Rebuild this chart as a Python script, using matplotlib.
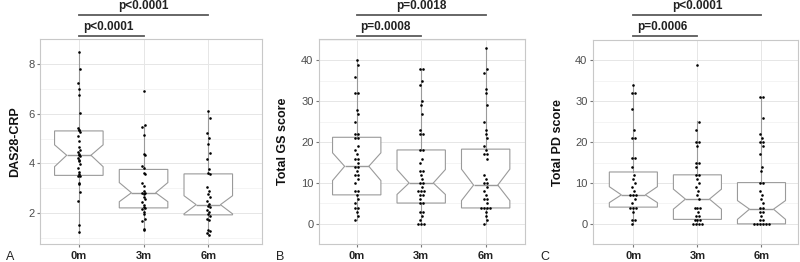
import matplotlib
matplotlib.use("Agg")
import matplotlib.pyplot as plt
import numpy as np
from matplotlib.transforms import blended_transform_factory

plt.rcParams['font.family'] = ['Liberation Sans', 'DejaVu Sans']

groups = ["0m", "3m", "6m"]

# ---- Panel A: DAS28-CRP ----
das_0m = [8.50, 7.80, 7.26, 6.98, 6.74, 6.03, 5.42, 5.35, 5.33, 5.28, 5.09, 4.89, 4.66, 4.56,
          4.46, 4.40, 4.36, 4.29, 4.22, 4.13, 4.08, 3.96, 3.83, 3.67, 3.56, 3.50, 3.48, 3.23,
          3.17, 2.87, 2.50, 1.51, 1.22]
das_3m = [6.90, 5.55, 5.46, 5.15, 4.38, 4.33, 3.89, 3.83, 3.63, 3.56, 3.23, 3.10, 2.90, 2.83,
          2.80, 2.77, 2.66, 2.57, 2.44, 2.34, 2.24, 2.20, 2.17, 2.04, 1.97, 1.75, 1.68, 1.38, 1.31]
das_6m = [6.13, 5.84, 5.22, 5.02, 4.79, 4.42, 4.16, 3.76, 3.60, 3.56, 3.07, 2.90, 2.77, 2.64,
          2.50, 2.37, 2.30, 2.24, 2.13, 2.04, 1.97, 1.87, 1.77, 1.71, 1.34, 1.27, 1.18, 1.11]
# box stats: q1, med, q3, notch lo, notch hi, whisker lo, whisker hi
das_q1 = [3.52, 2.21, 1.93]
das_med = [4.33, 2.82, 2.34]
das_q3 = [5.31, 3.76, 3.58]
das_cilo = [3.87, 2.46, 1.97]
das_cihi = [4.75, 3.23, 2.70]
das_wlo = [1.20, 1.31, 1.11]
das_whi = [8.50, 5.55, 6.13]

# ---- Panel B: Total GS score ----
gs_0m = [40, 39, 36, 32, 32, 28, 27, 25, 22, 22, 21, 21, 19, 18, 17, 16, 16, 15, 14, 14, 13,
         12, 12, 11, 10, 8, 8, 7, 6, 5, 4, 4, 3, 2, 1]
gs_3m = [38, 38, 35, 34, 30, 29, 27, 23, 22, 22, 18, 18, 16, 15, 13, 13, 12, 11, 10, 10, 9,
         8, 8, 8, 7, 7, 6, 5, 5, 3, 3, 2, 1, 0, 0, 0]
gs_6m = [43, 38, 37, 33, 32, 29, 25, 23, 22, 21, 19, 18, 17, 17, 16, 12, 11, 10, 10, 9, 8, 7,
         6, 6, 5, 4, 4, 4, 4, 3, 2, 1, 0]
gs_q1 = [7.1, 5.1, 3.9]
gs_med = [14.1, 10.0, 9.5]
gs_q3 = [21.2, 18.1, 18.3]
gs_cilo = [10.6, 7.2, 5.7]
gs_cihi = [17.4, 13.3, 13.4]
gs_wlo = [1, 0, 0]
gs_whi = [40, 38, 43]

# ---- Panel C: Total PD score ----
pd_0m = [34, 32, 32, 28, 23, 21, 21, 16, 16, 14, 12, 11, 10, 9, 8, 7, 7, 7, 6, 5, 4, 4, 4,
         3, 1, 1, 0]
pd_3m = [39, 25, 23, 20, 20, 19, 15, 15, 14, 12, 12, 11, 10, 9, 8, 7, 6, 4, 4, 4, 3, 2, 2,
         1, 1, 1, 0, 0, 0, 0]
pd_6m = [31, 31, 26, 22, 21, 20, 20, 19, 17, 14, 13, 10, 10, 8, 7, 6, 5, 4, 4, 3, 3, 2, 1, 1,
         0, 0, 0, 0, 0, 0]
pd_q1 = [4.1, 1.1, 0.0]
pd_med = [7.1, 6.06, 3.6]
pd_q3 = [12.7, 12.0, 10.1]
pd_cilo = [5.2, 3.6, 1.1]
pd_cihi = [9.1, 8.5, 5.7]
pd_wlo = [0, 0, 0]
pd_whi = [34, 25.2, 31]

panels = [
    dict(pts=[das_0m, das_3m, das_6m], q1=das_q1, med=das_med, q3=das_q3, cilo=das_cilo,
         cihi=das_cihi, wlo=das_wlo, whi=das_whi, ylabel="DAS28-CRP", letter="A",
         yticks=[2, 4, 6, 8], ylim=(0.744, 8.89), xlim=(0.40, 3.83),
         pos=[40, 39.3, 262, 244.3], p_top="p<0.0001", p_low="p<0.0001", lx=10, ylx=15),
    dict(pts=[gs_0m, gs_3m, gs_6m], q1=gs_q1, med=gs_med, q3=gs_q3, cilo=gs_cilo,
         cihi=gs_cihi, wlo=gs_wlo, whi=gs_whi, ylabel="Total GS score", letter="B",
         yticks=[0, 10, 20, 30, 40], ylim=(-2.32, 45.19), xlim=(0.415, 3.61),
         pos=[319, 39.3, 525, 244.3], p_top="p=0.0018", p_low="p=0.0008", lx=280, ylx=283),
    dict(pts=[pd_0m, pd_3m, pd_6m], q1=pd_q1, med=pd_med, q3=pd_q3, cilo=pd_cilo,
         cihi=pd_cihi, wlo=pd_wlo, whi=pd_whi, ylabel="Total PD score", letter="C",
         yticks=[0, 10, 20, 30, 40], ylim=(-2.19, 41.21), xlim=(0.37, 3.57),
         pos=[593, 40, 798, 244.3], p_top="p<0.0001", p_low="p=0.0006", lx=545, ylx=558),
]

W, H = 800, 262
fig = plt.figure(figsize=(W / 100, H / 100), dpi=100)

box_col = "#9a9a9a"
grid_major = "#e6e6e6"
grid_minor = "#f2f2f2"
bar_col = "#5a5a5a"

for p in panels:
    l, t, r, b = p["pos"]
    ax = fig.add_axes([l / W, (H - b) / H, (r - l) / W, (b - t) / H])

    stats = []
    for i in range(3):
        stats.append(dict(med=p["med"][i], q1=p["q1"][i], q3=p["q3"][i],
                          cilo=p["cilo"][i], cihi=p["cihi"][i],
                          whislo=p["wlo"][i], whishi=p["whi"][i], fliers=[]))
    ax.bxp(stats, positions=[1, 2, 3], widths=0.75, shownotches=True, showcaps=False,
           showfliers=False, patch_artist=True, manage_ticks=False,
           boxprops=dict(facecolor="white", edgecolor=box_col, lw=0.8),
           whiskerprops=dict(color=box_col, lw=0.8),
           medianprops=dict(color=box_col, lw=1.0))

    # points: duplicates spread side by side, singletons with a small alternating shift
    for gi, vals in enumerate(p["pts"]):
        xs, ys = [], []
        uniq = {}
        for v in vals:
            uniq[v] = uniq.get(v, 0) + 1
        for k, (v, c) in enumerate(uniq.items()):
            shift = [0.0, 0.02, -0.02, 0.01][k % 4] if c == 1 else 0.0
            for j in range(c):
                xs.append(gi + 1 + shift + (j - (c - 1) / 2) * 0.045)
                ys.append(v)
        ax.scatter(xs, ys, s=3.5, color="black", zorder=5, linewidths=0)

    ax.set_xlim(*p["xlim"])
    ax.set_ylim(*p["ylim"])
    yt = p["yticks"]
    step = yt[1] - yt[0]
    minor = [v + step / 2 for v in [yt[0] - step] + yt]
    ax.set_yticks(yt)
    ax.set_yticks(minor, minor=True)
    ax.set_xticks([1, 2, 3])
    ax.set_xticklabels(groups, fontsize=8, fontweight="bold", color="#222222")
    ax.grid(True, which="major", color=grid_major, lw=0.7)
    ax.grid(True, which="minor", axis="y", color=grid_minor, lw=0.6)
    ax.set_axisbelow(True)
    ax.tick_params(axis="both", which="minor", length=0)
    ax.tick_params(axis="y", which="major", length=2, color="#777777", labelsize=8,
                   labelcolor="#4d4d4d", pad=2)
    ax.tick_params(axis="x", which="major", length=2, color="#777777", pad=3)
    for s in ax.spines.values():
        s.set_color("#c8c8c8")
        s.set_linewidth(0.8)

    ax.set_ylabel(p["ylabel"], fontsize=9, fontweight="bold", color="#111111")
    ax.yaxis.set_label_coords((p["ylx"] - l) / (r - l), 0.5)
    ax.yaxis.label.set_va("center")

    tr = blended_transform_factory(ax.transData, fig.transFigure)
    ax.plot([1, 3], [1 - 14.5 / H] * 2, color=bar_col, lw=1.3, transform=tr, clip_on=False)
    ax.plot([1, 2], [1 - 35.5 / H] * 2, color=bar_col, lw=1.3, transform=tr, clip_on=False)
    ax.text(2.0, 1 - 6 / H, p["p_top"], transform=tr, ha="center", va="center",
            fontsize=8.5, fontweight="bold", color="#222222")
    ax.text(1.45, 1 - 27 / H, p["p_low"], transform=tr, ha="center", va="center",
            fontsize=8.5, fontweight="bold", color="#222222")

    fig.text(p["lx"] / W, 1 - 257 / H, p["letter"], ha="center", va="center",
             fontsize=9, color="#222222")

fig.savefig("out.png", dpi=100)
